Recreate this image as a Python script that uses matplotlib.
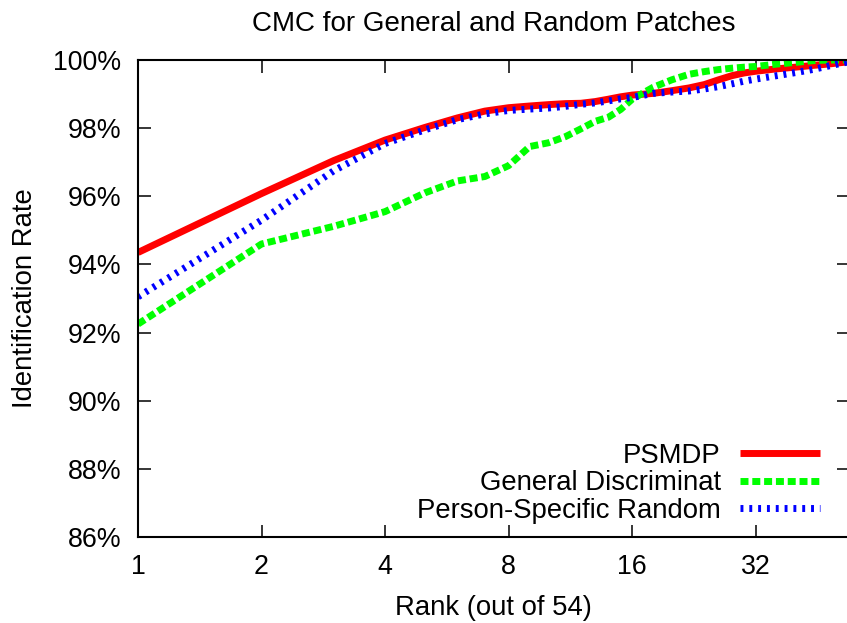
import matplotlib
matplotlib.use("Agg")
import matplotlib.pyplot as plt
from matplotlib.ticker import FixedLocator, FixedFormatter, NullLocator

plt.rcParams['font.family'] = ['Liberation Sans', 'DejaVu Sans']

# ranks (out of 54) and identification rates (%)
ranks = [1, 2, 3, 4, 5, 6, 7, 8, 9, 10, 11, 12, 13, 14, 15, 16,
         18, 20, 22, 24, 26, 28, 30, 32, 36, 40, 44, 48, 54]
psmdp = [94.35, 96.08, 97.05, 97.65, 98.02, 98.30, 98.50, 98.60, 98.65, 98.69,
         98.72, 98.73, 98.78, 98.85, 98.92, 98.97, 99.02, 99.10, 99.18, 99.28,
         99.42, 99.54, 99.62, 99.67, 99.74, 99.79, 99.84, 99.88, 99.95]
general = [92.25, 94.60, 95.12, 95.55, 96.10, 96.45, 96.58, 96.90, 97.46, 97.57,
           97.75, 97.98, 98.20, 98.32, 98.55, 98.85, 99.20, 99.42, 99.58, 99.66,
           99.72, 99.76, 99.79, 99.81, 99.88, 99.93, 99.98, 100.0, 100.0]
person_random = [93.05, 95.30, 96.75, 97.55, 97.95, 98.25, 98.42, 98.52, 98.56, 98.59,
                 98.64, 98.70, 98.74, 98.80, 98.86, 98.90, 99.02, 99.06, 99.09, 99.15,
                 99.22, 99.30, 99.38, 99.44, 99.54, 99.63, 99.72, 99.82, 99.95]

series_names = ["PSMDP", "General Discriminat", "Person-Specific Random"]
xticks = [1, 2, 4, 8, 16, 32]
yticks = [86, 88, 90, 92, 94, 96, 98, 100]

fig = plt.figure(figsize=(8.47, 6.23), dpi=100)
ax = fig.add_axes([138 / 847, 1 - 537 / 623, 711 / 847, 477 / 623])

ax.plot(ranks, psmdp, color="#ff0000", lw=5, solid_capstyle="butt", label=series_names[0])
ax.plot(ranks, general, color="#00ff00", lw=5, dashes=(1.15, 0.55), dash_capstyle="butt",
        label=series_names[1])
ax.plot(ranks, person_random, color="#0000ff", lw=5, dashes=(0.42, 0.85), dash_capstyle="butt",
        label=series_names[2])

ax.set_xscale("log", base=2)
ax.set_xlim(1, 54)
ax.set_ylim(86, 100)
ax.xaxis.set_major_locator(FixedLocator(xticks))
ax.xaxis.set_major_formatter(FixedFormatter([str(t) for t in xticks]))
ax.xaxis.set_minor_locator(NullLocator())
ax.set_yticks(yticks)
ax.set_yticklabels([f"{t}%" for t in yticks])

ax.tick_params(direction="in", length=9, width=1.1, labelsize=19.3,
               top=True, right=True, pad=12)
for s in ax.spines.values():
    s.set_linewidth(1.5)

ax.set_title("CMC for General and Random Patches", fontsize=20, pad=21)
ax.set_xlabel("Rank (out of 54)", fontsize=19.8, labelpad=11)
ax.set_ylabel("Identification Rate", fontsize=19.8, labelpad=11)

ax.legend(loc="lower right", bbox_to_anchor=(0.959, 0.028), markerfirst=False, frameon=False,
          fontsize=19.8, handlelength=2.9, handletextpad=0.7, labelspacing=0.05,
          borderpad=0, borderaxespad=0)

fig.savefig("out.png", dpi=100)
